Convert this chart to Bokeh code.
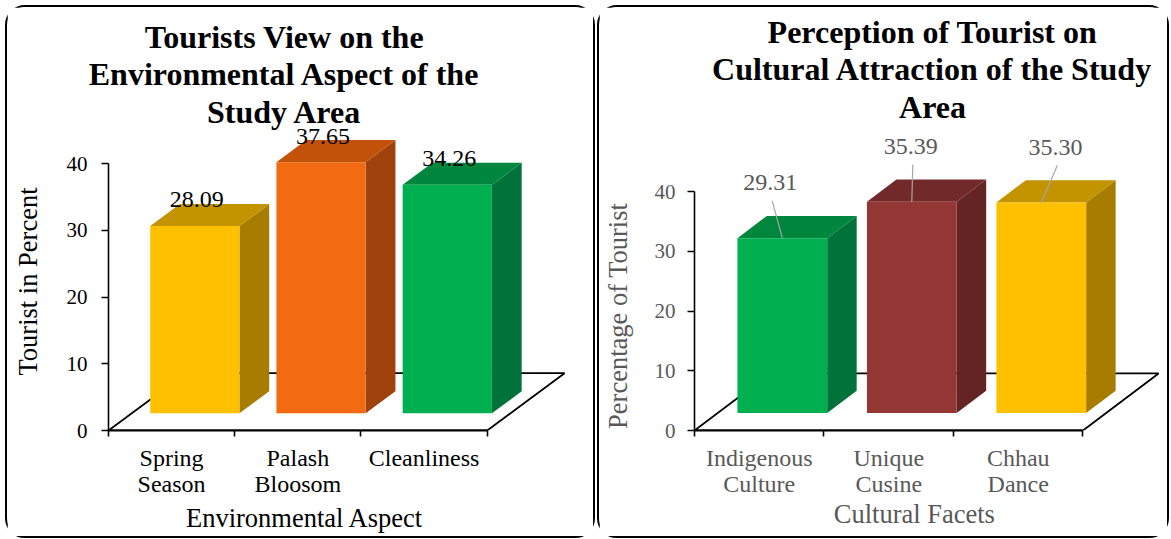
from bokeh.plotting import figure
from bokeh.layouts import row
from bokeh.models import Range1d, FixedTicker, LinearAxis
from bokeh.embed import file_html
from bokeh.resources import INLINE
from bokeh.core.properties import value

SERIF = "Liberation Serif"

# ---- Environmental aspect ----
env_title = ["Tourists View on the", "Environmental Aspect of the", "Study Area"]
env_categories = ["Spring\nSeason", "Palash\nBloosom", "Cleanliness"]
env_values = [28.09, 37.65, 34.26]
env_front = ["#FFC000", "#F26A12", "#00B050"]
env_top = ["#C49300", "#C2520A", "#00873D"]
env_side = ["#A67D00", "#9F420E", "#00723A"]

# ---- Cultural attraction ----
cult_title = ["Perception of Tourist on", "Cultural Attraction of the Study", "Area"]
cult_categories = ["Indigenous\nCulture", "Unique\nCusine", "Chhau\nDance"]
cult_values = [29.31, 35.39, 35.30]
cult_front = ["#00B050", "#943634", "#FFC000"]
cult_top = ["#00873D", "#72292A", "#C49300"]
cult_side = ["#00723A", "#632423", "#A67D00"]

y_ticks = [0, 10, 20, 30, 40]


def box_faces(values, ddx, ddy, width, f0, f1):
    """Front, side and top polygons of pseudo-3D columns standing on a floor."""
    front, side, top = ([], []), ([], []), ([], [])
    for i, v in enumerate(values):
        c = i + 0.5
        xl, xr = c - width / 2, c + width / 2
        x0l, x0r = xl + f0 * ddx, xr + f0 * ddx
        x1l, x1r = xl + f1 * ddx, xr + f1 * ddx
        b0, b1 = f0 * ddy, f1 * ddy
        front[0].append([x0l, x0r, x0r, x0l])
        front[1].append([b0, b0, b0 + v, b0 + v])
        side[0].append([x0r, x1r, x1r, x0r])
        side[1].append([b0, b1, b1 + v, b0 + v])
        top[0].append([x0l, x0r, x1r, x1l])
        top[1].append([b0 + v, b0 + v, b1 + v, b1 + v])
    return front, side, top


def text_axis(p, side, pos, text, size, color, standoff, bold=False,
              vertical=False, line_height=1.2):
    """A bare axis whose single tick label carries a title placed at `pos`."""
    pos = round(pos, 4)
    ax = LinearAxis(ticker=FixedTicker(ticks=[pos], minor_ticks=[]),
                    major_label_overrides={pos: text},
                    axis_line_color=None, major_tick_line_color=None,
                    minor_tick_line_color=None,
                    major_tick_out=0, major_tick_in=0,
                    minor_tick_out=0, minor_tick_in=0,
                    major_label_standoff=standoff,
                    major_label_text_font=SERIF,
                    major_label_text_font_size=size,
                    major_label_text_font_style="bold" if bold else "normal",
                    major_label_text_color=color,
                    major_label_text_line_height=line_height)
    if vertical:
        ax.major_label_orientation = "vertical"
    p.add_layout(ax, side)


def build_panel(cfg):
    W, H = cfg["width"], cfg["height"]
    ml, mb, mt = cfg["mleft"], cfg["mbottom"], cfg["mtop"]
    sx, sy = cfg["px_per_cat"], cfg["px_per_unit"]
    frame_w, frame_h = W - ml, H - mb - mt
    txt = cfg["text_color"]

    p = figure(width=W, height=H,
               x_range=Range1d(0, frame_w / sx), y_range=Range1d(0, frame_h / sy),
               output_backend="svg", toolbar_location=None,
               min_border_left=ml, min_border_bottom=mb,
               min_border_top=mt, min_border_right=0)
    p.grid.visible = False
    p.outline_line_color = None
    p.background_fill_color = "white"
    p.border_fill_color = "white"
    p.styles = {"border": "2px solid #000000", "border-radius": "20px",
                "box-sizing": "content-box"}

    n = len(cfg["values"])
    ddx, ddy = cfg["depth_px"][0] / sx, cfg["depth_px"][1] / sy
    f0, f1 = cfg["depth_frac"]

    # floor of the 3-D plot area
    p.patch([0, n, n + ddx, ddx], [0, 0, ddy, ddy], fill_color=None,
            line_color="black", line_width=1.8)

    front, side, top = box_faces(cfg["values"], ddx, ddy, cfg["bar_width"], f0, f1)
    p.patches(side[0], side[1], fill_color=cfg["side"], line_color=None)
    p.patches(top[0], top[1], fill_color=cfg["top"], line_color=None)
    p.patches(front[0], front[1], fill_color=cfg["front"], line_color=None)

    # value labels
    fc = [i + 0.5 + f0 * ddx for i in range(n)]
    lab_x = [x + d / sx for x, d in zip(fc, cfg["label_shift_px"])]
    lab_y = [f0 * ddy + v + cfg["label_rise_px"] / sy for v in cfg["values"]]
    if cfg["leaders"]:
        p.segment(x0=fc, y0=[f0 * ddy + v for v in cfg["values"]],
                  x1=[x + 2 / sx for x in lab_x], y1=[y - 18 / sy for y in lab_y],
                  line_color="#A6A6A6", line_width=1.2)
    p.text(x=lab_x, y=lab_y, text=[f"{v:.2f}" for v in cfg["values"]],
           text_align="center", text_baseline="middle",
           text_font=value(SERIF), text_font_size="24px", text_color=txt)

    # value axis
    yax = p.yaxis[0]
    yax.ticker = FixedTicker(ticks=y_ticks, minor_ticks=[])
    yax.bounds = (y_ticks[0], y_ticks[-1])
    yax.axis_line_color = "black"
    yax.axis_line_width = 1.6
    yax.major_tick_out = 7
    yax.major_tick_in = 0
    yax.major_tick_line_width = 1.6
    yax.minor_tick_out = 0
    yax.minor_tick_in = 0
    yax.major_label_text_font = SERIF
    yax.major_label_text_font_size = "21px"
    yax.major_label_text_color = txt
    yax.major_label_standoff = cfg["ylabel_standoff"]

    # category axis: labels at centres, tick marks at boundaries
    xax = p.xaxis[0]
    xax.ticker = FixedTicker(ticks=[i + 0.5 for i in range(n)],
                             minor_ticks=list(range(n + 1)))
    xax.major_label_overrides = {i + 0.5: c for i, c in enumerate(cfg["categories"])}
    xax.bounds = (0, n)
    xax.axis_line_color = "black"
    xax.axis_line_width = 1.8
    xax.major_tick_out = 0
    xax.major_tick_in = 0
    xax.minor_tick_out = 6
    xax.minor_tick_in = 0
    xax.minor_tick_line_color = "black"
    xax.minor_tick_line_width = 1.6
    xax.major_label_text_font = SERIF
    xax.major_label_text_font_size = "24px"
    xax.major_label_text_color = txt
    xax.major_label_text_line_height = 1.0
    xax.major_label_standoff = 8

    # titles, each centred at its own position outside the plot frame
    text_axis(p, "above", cfg["title_x_px"] / sx, "\n".join(cfg["title"]),
              "32px", "black", cfg["title_standoff"], bold=True, line_height=1.03)
    text_axis(p, "left", cfg["ytitle_y_px"] / sy, cfg["ytitle"], "26.5px", txt,
              cfg["ytitle_standoff"], vertical=True)
    text_axis(p, "below", cfg["xtitle_x_px"] / sx, cfg["xtitle"], "26.5px", txt,
              cfg["xtitle_standoff"])
    return p


left = build_panel(dict(
    width=586, height=529, mleft=101, mbottom=110, mtop=111,
    px_per_cat=125.2, px_per_unit=6.67,
    depth_px=(76.7, 57.3), depth_frac=(0.30, 0.685), bar_width=0.707,
    values=env_values, categories=env_categories,
    front=env_front, top=env_top, side=env_side,
    label_shift_px=[2, 2, 2], label_rise_px=26, leaders=False,
    text_color="black", ylabel_standoff=14,
    title=env_title, title_x_px=174.5, title_standoff=-7,
    ytitle="Tourist in Percent", ytitle_y_px=149, ytitle_standoff=20,
    xtitle="Environmental Aspect", xtitle_x_px=194.7, xtitle_standoff=3,
))

right = build_panel(dict(
    width=568, height=529, mleft=95, mbottom=108, mtop=115,
    px_per_cat=128.4, px_per_unit=5.93,
    depth_px=(75.0, 56.7), depth_frac=(0.305, 0.695), bar_width=0.693,
    values=cult_values, categories=cult_categories,
    front=cult_front, top=cult_top, side=cult_side,
    label_shift_px=[-12, -1, 14], label_rise_px=55, leaders=True,
    text_color="#595959", ylabel_standoff=12,
    title=cult_title, title_x_px=236, title_standoff=-2,
    ytitle="Percentage of Tourist", ytitle_y_px=114, ytitle_standoff=18,
    xtitle="Cultural Facets", xtitle_x_px=218, xtitle_standoff=-1,
))

page = row(left, right, spacing=2, margin=(5, 0, 0, 5))

with open("out.html", "w") as f:
    f.write(file_html(page, INLINE))
